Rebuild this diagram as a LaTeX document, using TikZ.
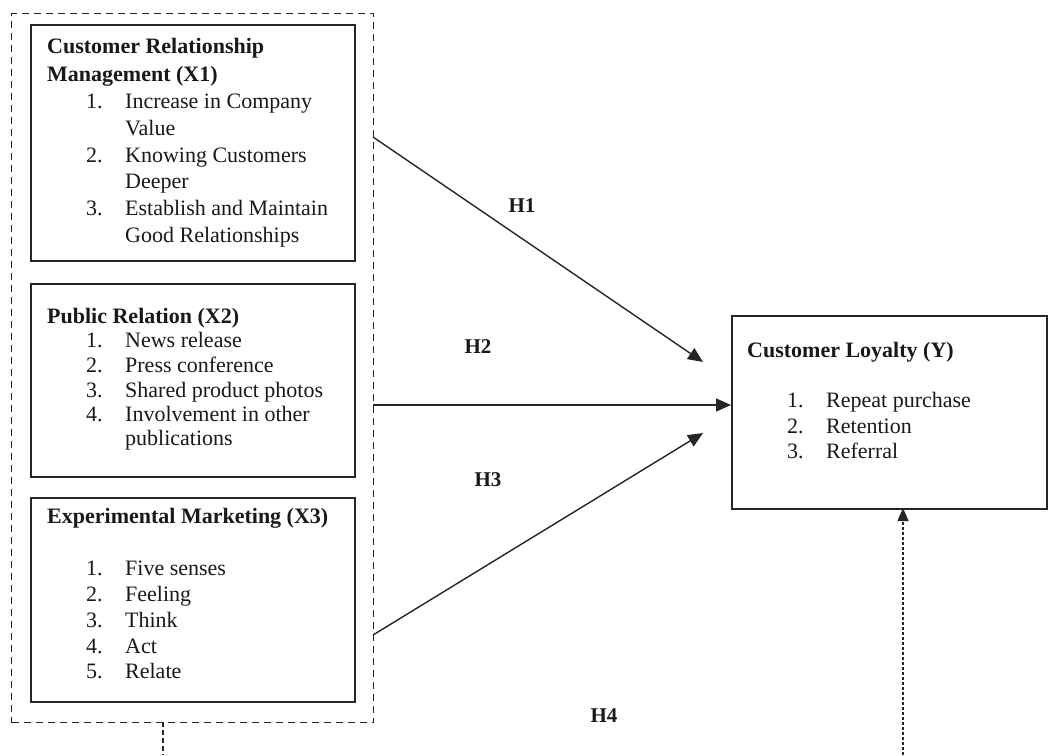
\documentclass[tikz,border=0pt]{standalone}
\usepackage{fontspec}
\setmainfont{Liberation Serif}
\usetikzlibrary{arrows.meta}
\newcommand\numb[1]{\makebox[39pt][l]{#1}}
\begin{document}
\begin{tikzpicture}[x=1pt,y=-1pt,
  box/.style={draw=black!85,line width=1.7pt,anchor=north west,inner sep=0pt,rectangle},
  outerbox/.style={draw=black!85,line width=1.4pt,dash pattern=on 7pt off 5pt,anchor=north west,inner sep=0pt,rectangle},
  txt/.style={anchor=base west,inner sep=0pt,font=\fontsize{22}{27}\selectfont,text=black!90},
  ttl/.style={txt,font=\fontsize{22}{27}\selectfont\bfseries},
  hlab/.style={anchor=base,inner sep=0pt,font=\fontsize{21}{25}\selectfont\bfseries,text=black!90},
  conn/.style={draw=black!85,line width=1.4pt,-{Triangle[length=15pt,width=13pt]}},
]
\useasboundingbox (0,0) rectangle (1048,755);
\fill[white] (0,0) rectangle (1048,755);

% boxes
\node[outerbox,minimum width=362pt,minimum height=709pt] (outer) at (11,13) {};
\node[box,minimum width=324pt,minimum height=236pt] (x1) at (30,24) {};
\node[box,minimum width=324pt,minimum height=193pt] (x2) at (30,283) {};
\node[box,minimum width=324pt,minimum height=204pt] (x3) at (30,497) {};
\node[box,minimum width=315pt,minimum height=193pt] (y) at (731,315) {};

% X1 text
\node[ttl] (x1t1) at (47,53) {Customer Relationship};
\node[ttl] (x1t2) at (47,81) {Management (X1)};
\node[txt] (x1a) at (86,108) {\numb{1.}Increase in Company};
\node[txt] (x1b) at (125,135) {Value};
\node[txt] (x1c) at (86,162) {\numb{2.}Knowing Customers};
\node[txt] (x1d) at (125,188) {Deeper};
\node[txt] (x1e) at (86,215) {\numb{3.}Establish and Maintain};
\node[txt] (x1f) at (125,242) {Good Relationships};

% X2 text
\node[ttl] (x2t) at (47,323) {Public Relation (X2)};
\node[txt] (x2a) at (86,347) {\numb{1.}News release};
\node[txt] (x2b) at (86,372) {\numb{2.}Press conference};
\node[txt] (x2c) at (86,397) {\numb{3.}Shared product photos};
\node[txt] (x2d) at (86,421) {\numb{4.}Involvement in other};
\node[txt] (x2e) at (125,445) {publications};

% X3 text
\node[ttl] (x3t) at (47,523) {Experimental Marketing (X3)};
\node[txt] (x3a) at (86,575) {\numb{1.}Five senses};
\node[txt] (x3b) at (86,601) {\numb{2.}Feeling};
\node[txt] (x3c) at (86,627) {\numb{3.}Think};
\node[txt] (x3d) at (86,653) {\numb{4.}Act};
\node[txt] (x3e) at (86,678) {\numb{5.}Relate};

% Y text
\node[ttl] (yt) at (747,357) {Customer Loyalty (Y)};
\node[txt] (ya) at (787,407) {\numb{1.}Repeat purchase};
\node[txt] (yb) at (787,433) {\numb{2.}Retention};
\node[txt] (yc) at (787,458) {\numb{3.}Referral};

% connector ends
\coordinate (h1s) at (373,137);
\coordinate (h1e) at (703,362);
\coordinate (h2s) at (373,405);
\coordinate (h3s) at (373,635);
\coordinate (h3e) at (703,433);
\coordinate (d1s) at (163,722);
\coordinate (d1e) at (163,755);
\coordinate (d2s) at (903,755);
\coordinate (d2e) at (903,508);

\draw[conn] (h1s) -- (h1e);
\draw[conn] (h2s) -- (y.west |- h2s);
\draw[conn] (h3s) -- (h3e);
\draw[draw=black!85,line width=1.3pt,dash pattern=on 5pt off 3pt] (d1s) -- (d1e);
\draw[draw=black!85,line width=1.3pt,dash pattern=on 3pt off 2pt,-{Triangle[length=13pt,width=11pt]}] (d2s) -- (d2e);

% labels
\node[hlab] (h1) at (522,212) {H1};
\node[hlab] (h2) at (478,353) {H2};
\node[hlab] (h3) at (488,486) {H3};
\node[hlab] (h4) at (604,722) {H4};
\end{tikzpicture}
\end{document}
